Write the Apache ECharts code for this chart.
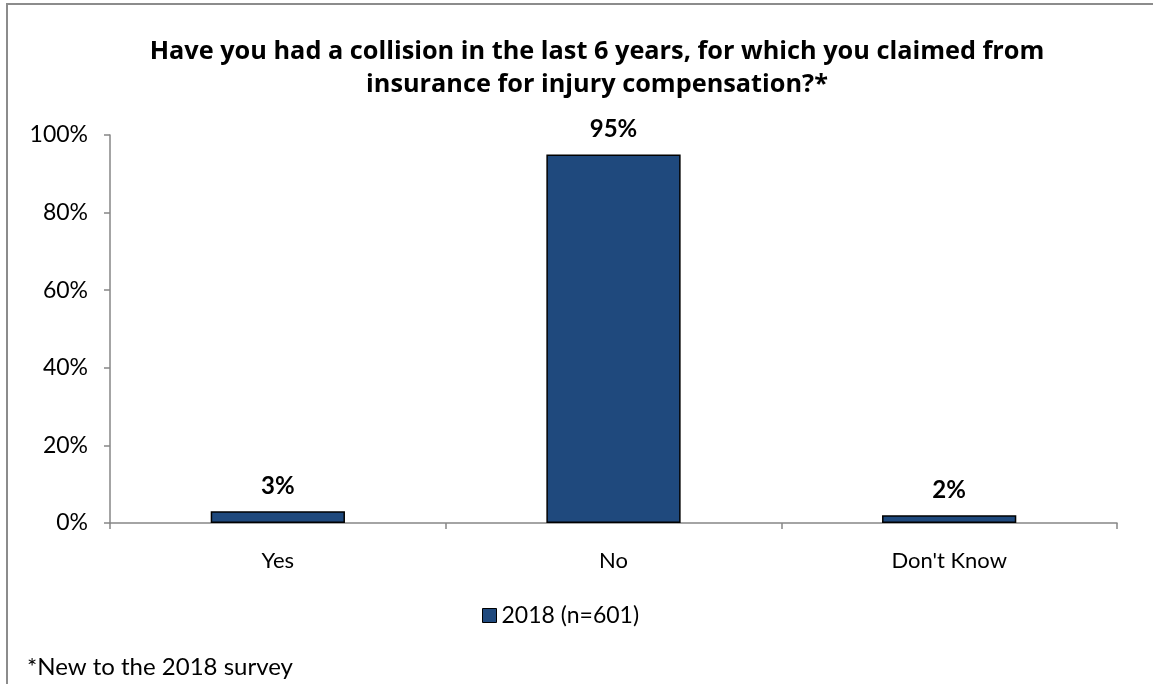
<!DOCTYPE html>
<html>
<head>
<meta charset="utf-8">
<script src="https://cdn.jsdelivr.net/npm/echarts@6/dist/echarts.min.js"></script>
<style>
  html, body { margin: 0; padding: 0; background: #fff; }
  #chart { width: 1153px; height: 684px; }
</style>
</head>
<body>
<div id="chart"></div>
<script>
// Survey responses (share of respondents, %)
const categories = ['Yes', 'No', "Don't Know"];
const values2018 = [3, 95, 2];
const seriesName = '2018 (n=601)';
const yTicks = [0, 20, 40, 60, 80, 100];

const FONT = 'Lato, "Open Sans", sans-serif';
const TITLE_FONT = '"Open Sans", Lato, sans-serif';

const chart = echarts.init(document.getElementById('chart'));
chart.setOption({
  animation: false,
  backgroundColor: '#ffffff',
  textStyle: { fontFamily: FONT, color: '#000' },
  title: {
    text: 'Have you had a collision in the last 6 years, for which you claimed from\ninsurance for injury compensation?*',
    left: 592,
    top: 30,
    textAlign: 'center',
    textStyle: { fontFamily: TITLE_FONT, fontSize: 25.3, fontWeight: 'bold', color: '#000', lineHeight: 33 }
  },
  legend: {
    data: [seriesName],
    left: 477,
    top: 599,
    itemWidth: 14,
    itemHeight: 14,
    itemGap: 8,
    icon: 'rect',
    textStyle: { fontFamily: FONT, fontSize: 23, color: '#000' },
    itemStyle: { borderColor: '#000', borderWidth: 1 }
  },
  grid: { left: 110, right: 36, top: 135, bottom: 161 },
  xAxis: {
    type: 'category',
    data: categories,
    axisLine: { lineStyle: { color: '#868686', width: 1.5 } },
    axisTick: { show: true, length: 6, lineStyle: { color: '#868686', width: 1.5 } },
    axisLabel: { fontFamily: FONT, fontSize: 22, color: '#000', margin: 27 }
  },
  yAxis: {
    type: 'value',
    min: yTicks[0],
    max: yTicks[yTicks.length - 1],
    interval: 20,
    splitLine: { show: false },
    axisLine: { show: true, lineStyle: { color: '#868686', width: 1.5 } },
    axisTick: { show: true, length: 6, lineStyle: { color: '#868686', width: 1.5 } },
    axisLabel: { fontFamily: FONT, fontSize: 23, color: '#000', margin: 22, formatter: '{value}%' }
  },
  series: [{
    name: seriesName,
    type: 'bar',
    data: values2018,
    barWidth: '40%',
    itemStyle: { color: '#1f497d', borderColor: '#000', borderWidth: 1.5 },
    label: {
      show: true,
      position: 'top',
      distance: 13,
      formatter: '{c}%',
      fontFamily: FONT,
      fontSize: 24,
      fontWeight: 'bold',
      color: '#000'
    }
  }],
  graphic: [
    {
      type: 'rect',
      shape: { x: 7, y: 4, width: 1200, height: 720 },
      style: { fill: 'none', stroke: '#8c8c8c', lineWidth: 2 },
      silent: true
    },
    {
      type: 'text',
      left: 27,
      top: 655,
      style: { text: '*New to the 2018 survey', font: '24px ' + FONT, fill: '#000' }
    }
  ]
});
</script>
</body>
</html>
